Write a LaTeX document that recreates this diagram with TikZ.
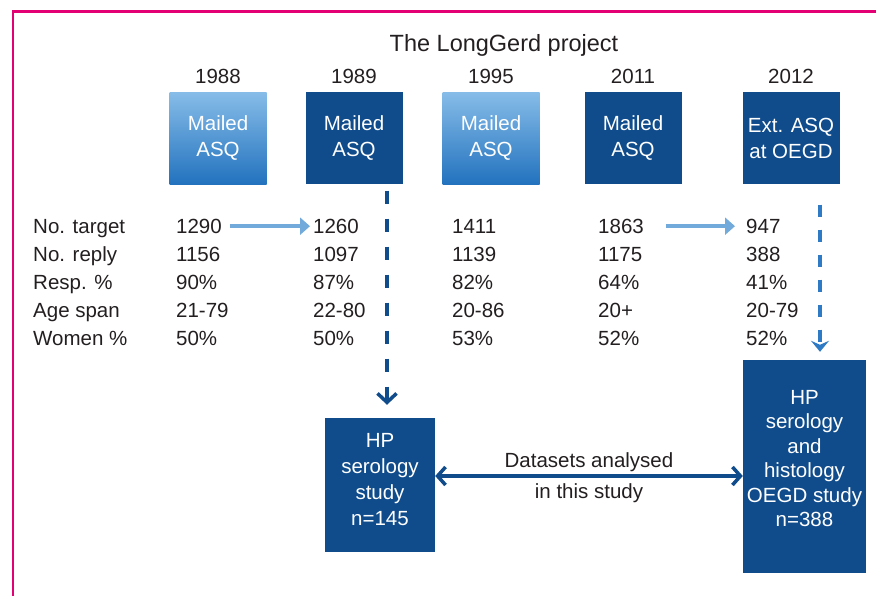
\documentclass[tikz,border=0pt]{standalone}
\usepackage{fontspec}
\setsansfont{Liberation Sans}
\RequirePackage{xcolor}
\definecolor{lgmagenta}{RGB}{226,0,116}
\definecolor{lgdark}{RGB}{16,76,140}
\definecolor{lglighttop}{RGB}{134,188,232}
\definecolor{lglightbot}{RGB}{34,114,190}
\definecolor{lgarrow}{RGB}{114,170,220}
\definecolor{lgmid}{RGB}{46,122,196}
\definecolor{lgtext}{RGB}{35,31,32}
\tikzset{every picture/.style={/utils/exec={\sffamily}}}
\usetikzlibrary{arrows.meta}
\usetikzlibrary{positioning}

\tikzset{
  txt/.style={font=\fontsize{20.5}{26}\selectfont, text=lgtext, inner sep=0pt},
  cell/.style={txt, anchor=base west},
  survey/.style={minimum width=97pt, minimum height=92pt, inner sep=0pt, align=center,
    text=white, font=\fontsize{20.5}{26}\selectfont},
  darkbox/.style={survey, fill=lgdark},
  lightbox/.style={survey, top color=lglighttop, bottom color=lglightbot},
  studybox/.style={fill=lgdark, inner sep=0pt},
  studytext/.style={align=center, text=white, inner sep=0pt},
  lightarrow/.style={draw=lgarrow, line width=4.5pt, -{Triangle[length=10pt,width=17pt]}},
  darkdash/.style={draw=lgdark, line width=4pt, dash pattern=on 13pt off 15pt,
    -{Straight Barb[length=9pt,width=19pt,line width=3.5pt]}},
  middash/.style={draw=lgmid, line width=3.5pt, dash pattern=on 12pt off 13pt,
    -{Stealth[length=11pt,width=18pt,inset=4pt]}},
  dblarrow/.style={draw=lgdark, line width=4pt,
    {Straight Barb[length=8pt,width=18pt,line width=3.5pt]}-{Straight Barb[length=8pt,width=18pt,line width=3.5pt]}},
}

\begin{document}
\begin{tikzpicture}[x=1pt, y=-1pt]
  \useasboundingbox (0,0) rectangle (876,596);

  % frame lines on top and left
  \draw [lgmagenta, line width=2.5pt] (876,11.5) -- (13,11.5) -- (13,596);

  \node [txt, font=\fontsize{23.5}{28}\selectfont, anchor=base] (title) at (504,52) {The LongGerd project};

  % the five surveys
  \node [lightbox] (s1988) at (218,138.5) {Mailed\\ASQ};
  \node [darkbox] (s1989) at (354,138.5) {Mailed\\ASQ};
  \node [lightbox] (s1995) at (491,138.5) {Mailed\\ASQ};
  \node [darkbox] (s2011) at (633,138.5) {Mailed\\ASQ};
  \node [darkbox] (s2012) at (791,138.5) {Ext. ASQ\\at OEGD};

  \node [txt, above=8.5pt of s1988] (y1988) {1988};
  \node [txt, above=8.5pt of s1989] (y1989) {1989};
  \node [txt, above=8.5pt of s1995] (y1995) {1995};
  \node [txt, above=8.5pt of s2011] (y2011) {2011};
  \node [txt, above=8.5pt of s2012] (y2012) {2012};

  % table of figures
  \foreach \lab/\a/\b/\c/\d/\e [count=\r] in {
      No. target/1290/1260/1411/1863/947,
      No. reply/1156/1097/1139/1175/388,
      Resp. \%/90\%/87\%/82\%/64\%/41\%,
      Age span/21-79/22-80/20-86/20+/20-79,
      Women \%/50\%/50\%/53\%/52\%/52\%} {
    \node [cell] (lab\r) at (33,205.5+28*\r) {\lab};
    \node [cell] (a\r) at (176,205.5+28*\r) {\a};
    \node [cell] (b\r) at (313,205.5+28*\r) {\b};
    \node [cell] (c\r) at (452,205.5+28*\r) {\c};
    \node [cell] (d\r) at (598,205.5+28*\r) {\d};
    \node [cell] (e\r) at (746,205.5+28*\r) {\e};
  }

  \draw [lightarrow] ([xshift=8pt,yshift=7.3pt]a1.base east) -- ([xshift=-3pt,yshift=7.3pt]b1.base west);
  \draw [lightarrow] ([xshift=22pt,yshift=7.3pt]d1.base east) -- ([xshift=-11pt,yshift=7.3pt]e1.base west);

  % the two studies
  \node [studybox, minimum width=110pt, minimum height=134pt] (sero) at (380,485) {};
  \node [studytext, font=\fontsize{20.5}{26}\selectfont] (serotext) at ([yshift=5pt]sero.center)
    {HP\\serology\\study\\n=145};

  \node [studybox, minimum width=123pt, minimum height=213pt] (histo) at (804.5,466.5) {};
  \node [studytext, font=\fontsize{20.5}{24.5}\selectfont] (histotext) at ([yshift=8pt]histo.center)
    {HP\\serology\\and\\histology\\OEGD study\\n=388};

  \draw [darkdash] ([xshift=33pt,yshift=-6pt]s1989.south) -- ([xshift=33pt]s1989.south |- sero.north)
    [shorten >=13pt];
  \draw [middash] ([xshift=29pt,yshift=-20pt]s2012.south) -- ([xshift=29pt]s2012.south |- histo.north)
    [shorten >=8pt];

  \draw [dblarrow] (sero.east |- 0,476) -- (histo.west |- 0,476)
    node [txt, midway, above=2pt] (dsets) {Datasets analysed}
    node [txt, midway, below=6pt] (thisstudy) {in this study};
\end{tikzpicture}
\end{document}
